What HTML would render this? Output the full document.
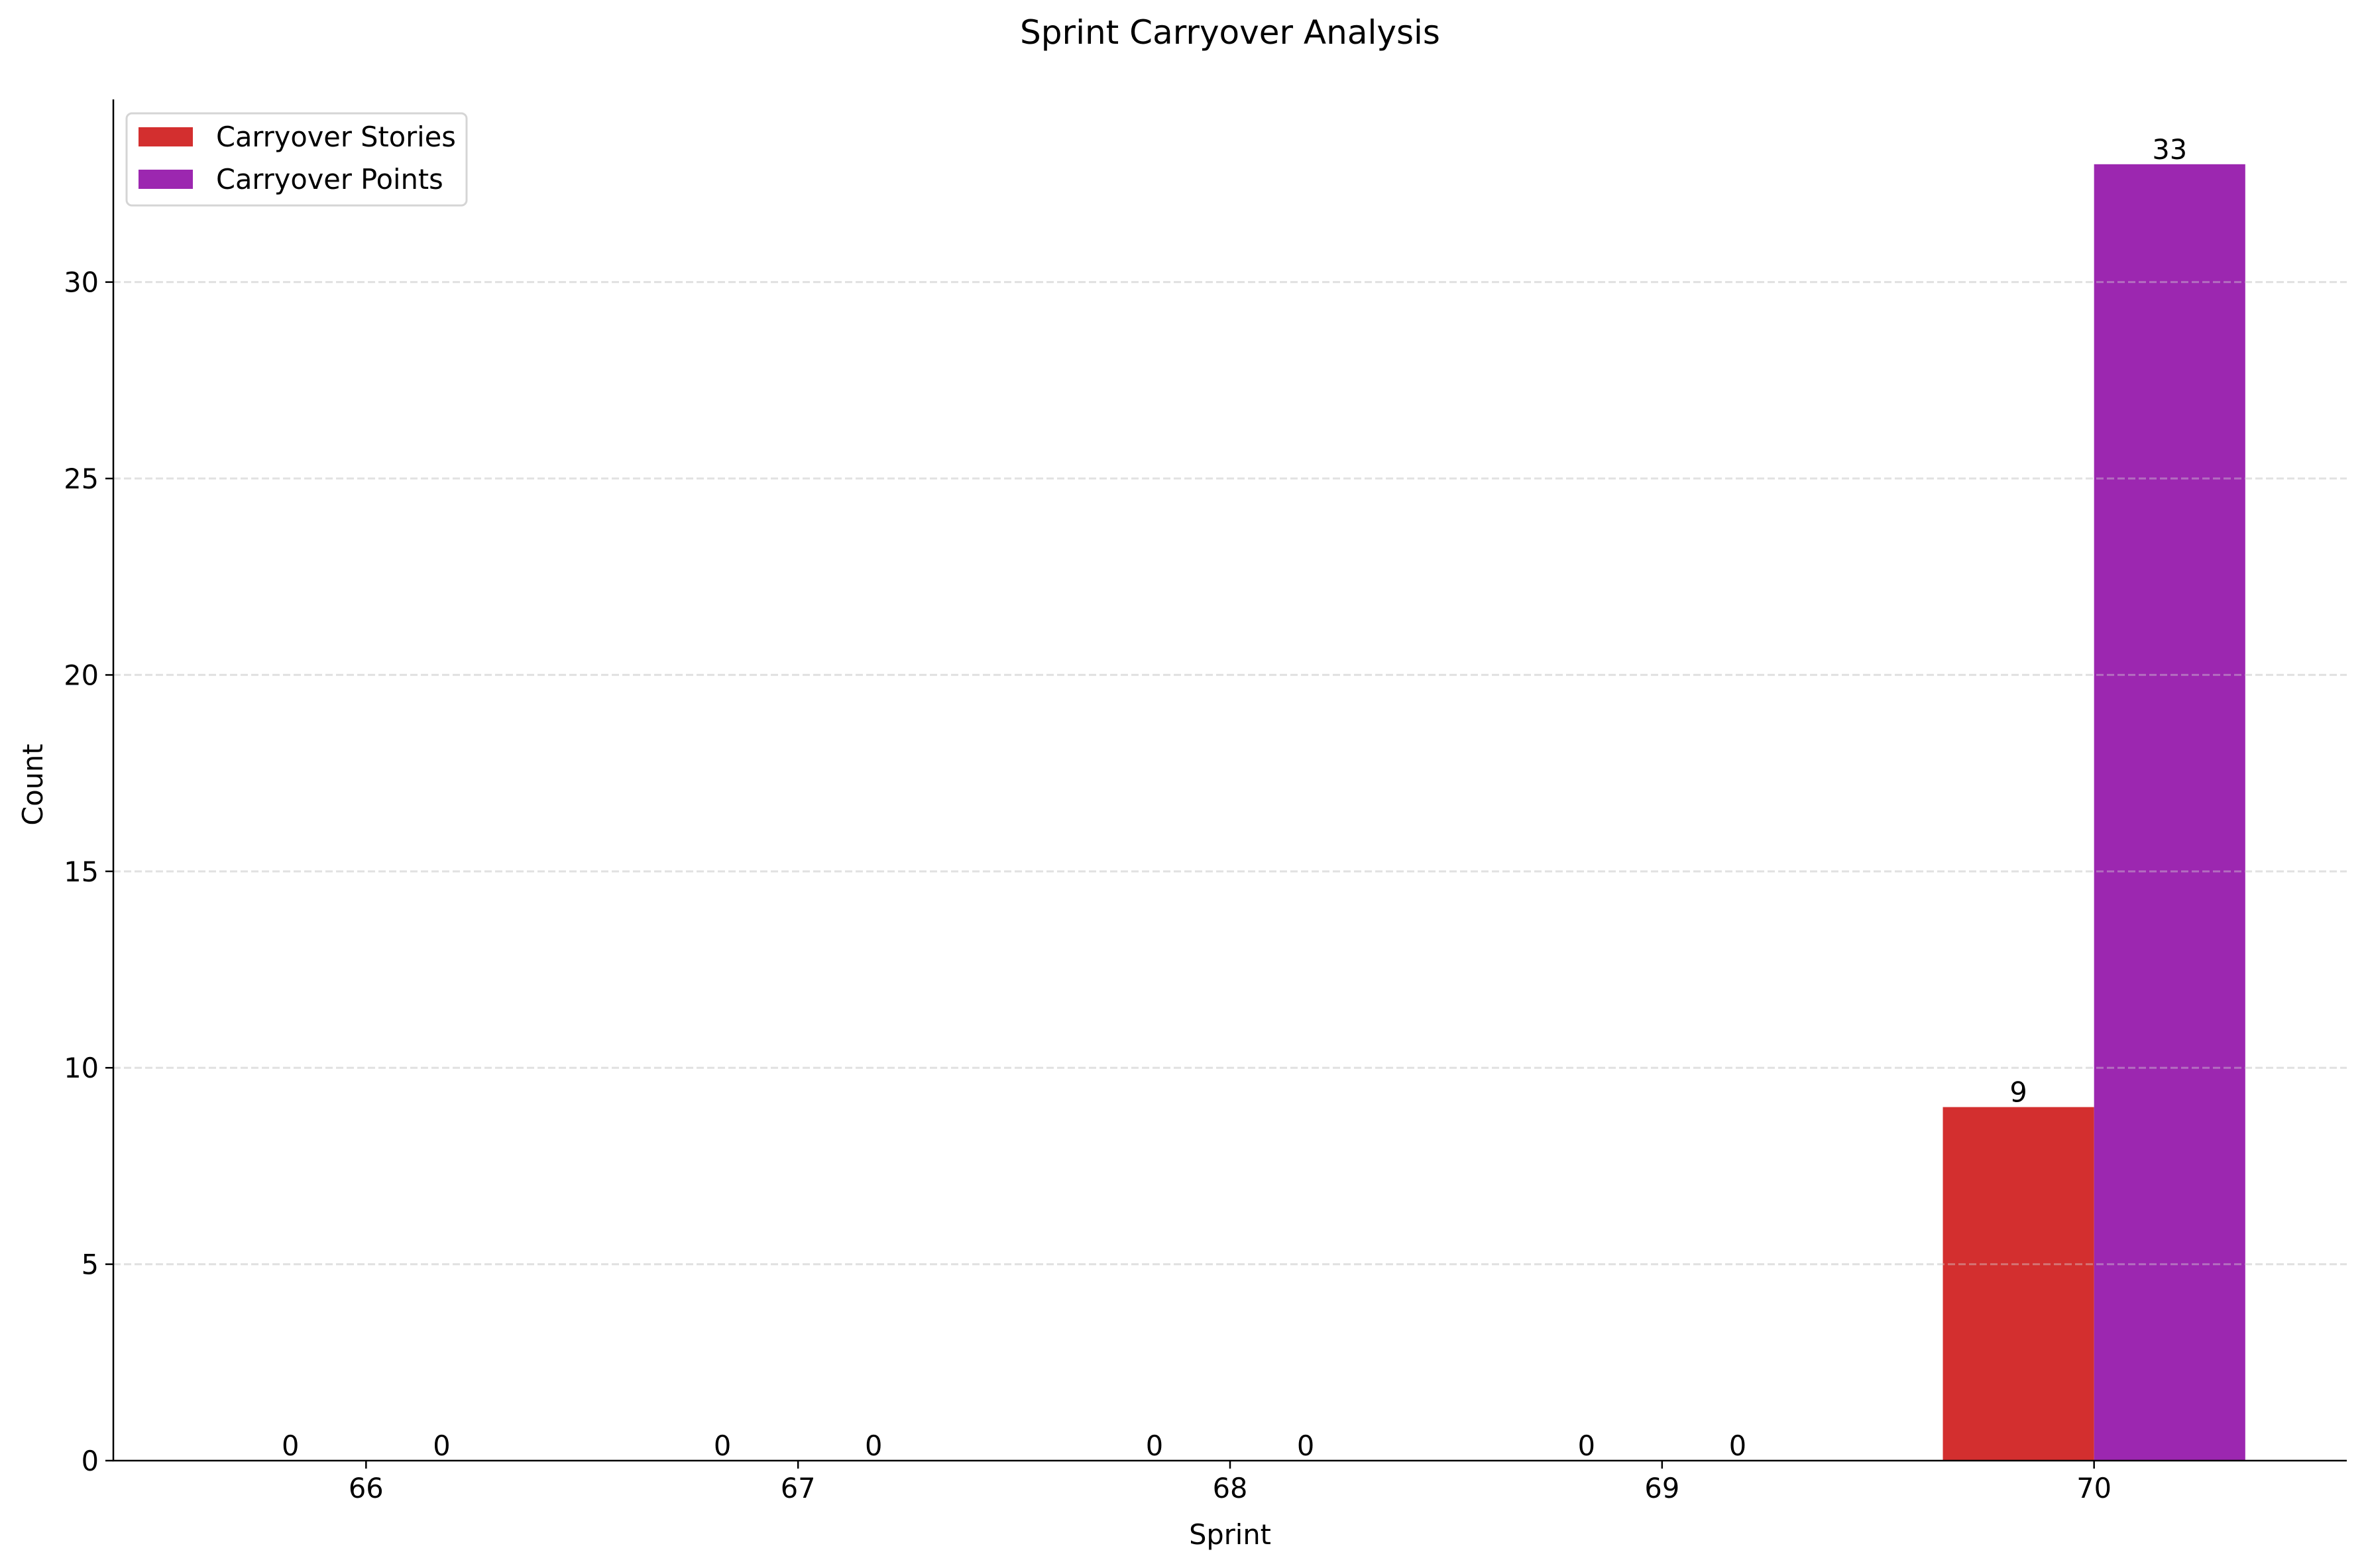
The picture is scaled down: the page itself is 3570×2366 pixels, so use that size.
<!DOCTYPE html>
<html><head><meta charset="utf-8"><style>
html,body{margin:0;padding:0;background:#fff;}
svg{display:block;font-family:"DejaVu Sans","Liberation Sans",sans-serif;}
</style></head><body>
<svg id="chart" width="3570" height="2366" viewBox="0 0 3570 2366" xmlns="http://www.w3.org/2000/svg">
<rect width="3570" height="2366" fill="#fff"/>
<text x="1856" y="66" font-size="50" text-anchor="middle">Sprint Carryover Analysis</text>
<g id="grid"></g>
<g id="bars"></g>
<g id="labels"></g>
<g id="axes"></g>
<text x="1856" y="2330" font-size="41.5" text-anchor="middle">Sprint</text>
<text x="0" y="0" font-size="41.5" text-anchor="middle" transform="translate(64,1184) rotate(-90)">Count</text>
<g>
<rect x="191" y="171" width="513" height="139" rx="8" fill="#fff" fill-opacity="0.8" stroke="#d5d5d5" stroke-width="3"/>
<rect x="209" y="192" width="82" height="29" fill="#d32f2f"/>
<text x="326" y="221" font-size="41.5">Carryover Stories</text>
<rect x="209" y="256" width="82" height="29" fill="#9c27b0"/>
<text x="326" y="285" font-size="41.5">Carryover Points</text>
</g>
</svg>
<script>
const sprints = ["66","67","68","69","70"];
const storiesValues = [0,0,0,0,9];
const pointsValues = [0,0,0,0,33];
const yTicks = [0,5,10,15,20,25,30];

const NS="http://www.w3.org/2000/svg";
const L=171,R=3541,T=150,B=2204;
const barW=0.35;
const xMin=-barW-0.235*(sprints.length-1+2*barW)/4.7, xMax=sprints.length-1+barW+0.235*(sprints.length-1+2*barW)/4.7;
const maxV=Math.max(...storiesValues,...pointsValues);
const yMax=maxV*1.05;
function xs(i){return L+(i-xMin)/(xMax-xMin)*(R-L);}
function ys(v){return B-v/yMax*(B-T);}
function mk(tag,attrs,parent,text){const e=document.createElementNS(NS,tag);for(const k in attrs)e.setAttribute(k,attrs[k]);if(text!==undefined)e.textContent=text;parent.appendChild(e);return e;}
const grid=document.getElementById('grid'),bars=document.getElementById('bars'),labels=document.getElementById('labels'),axes=document.getElementById('axes');
const unit=xs(1)-xs(0);
sprints.forEach((s,i)=>{
  const c=xs(i);
  const r1=mk('rect',{x:c-barW*unit,y:ys(storiesValues[i]),width:barW*unit,height:B-ys(storiesValues[i]),fill:'#d32f2f'},bars);
  
  
  const r2=mk('rect',{x:c,y:ys(pointsValues[i]),width:barW*unit,height:B-ys(pointsValues[i]),fill:'#9c27b0'},bars);
  
  
  const t1=mk('text',{x:c-barW*unit/2,y:ys(storiesValues[i])-8,'font-size':41.5,'text-anchor':'middle'},labels,String(storiesValues[i]));
  
  
  const t2=mk('text',{x:c+barW*unit/2,y:ys(pointsValues[i])-8,'font-size':41.5,'text-anchor':'middle'},labels,String(pointsValues[i]));
  
  
  const tk=mk('line',{x1:c,x2:c,y1:B,y2:B+12,stroke:'#000','stroke-width':2.5},axes);
  
  
  const tl=mk('text',{x:c,y:B+56,'font-size':41.5,'text-anchor':'middle'},axes,s);
  
  
});
yTicks.forEach(v=>{
  const y=ys(v);
  if(v>0){const g=mk('line',{x1:L,x2:R,y1:y,y2:y,stroke:'#d8d8d8','stroke-opacity':0.6,'stroke-width':3,'stroke-dasharray':'11 5'},grid);
  
  
  const g2=mk('line',{x1:L,x2:R,y1:y,y2:y,stroke:'#d8d8d8','stroke-opacity':0.4,'stroke-width':3,'stroke-dasharray':'11 5'},labels);
  
  }
  const tk=mk('line',{x1:L-12,x2:L,y1:y,y2:y,stroke:'#000','stroke-width':2.5},axes);
  
  
  const tl=mk('text',{x:L-22,y:y+15,'font-size':41.5,'text-anchor':'end'},axes,String(v));
  
  
});
const ya=mk('line',{x1:L,x2:L,y1:T,y2:B+1,stroke:'#000','stroke-width':2.5},axes);


const xa=mk('line',{x1:L-1,x2:R,y1:B,y2:B,stroke:'#000','stroke-width':2.5},axes);


</script>
</body></html>
